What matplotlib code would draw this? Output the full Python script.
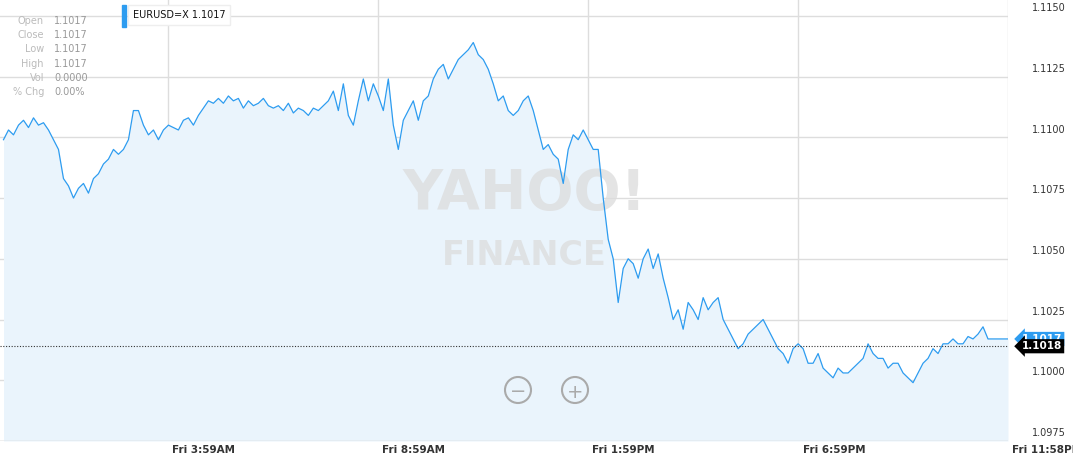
import matplotlib
matplotlib.use("Agg")
import matplotlib.pyplot as plt
from matplotlib.patches import Ellipse
import numpy as np

# price offsets in pips above 1.1000, sampled uniformly from 00:05 to 23:58
pips = [99,103,101,105,107,104,108,105,106,103,99,95,83,80,75,79,81,77,83,85,
89,91,95,93,95,99,111,111,105,101,103,99,103,105,104,103,107,108,105,109,
112,115,114,116,114,117,115,116,112,115,113,114,116,113,112,113,111,114,110,112,
111,109,112,111,113,115,119,111,122,109,105,115,124,115,122,117,111,124,105,95,
107,111,115,107,115,117,124,128,130,124,128,132,134,136,139,134,132,128,122,115,
117,111,109,111,115,117,111,103,95,97,93,91,81,95,101,99,103,99,95,95,
75,58,50,32,46,50,48,42,50,54,46,52,42,34,25,29,21,32,29,25,
34,29,32,34,25,21,17,13,15,19,21,23,25,21,17,13,11,7,13,15,
13,7,7,11,5,3,1,5,3,3,5,7,9,15,11,9,9,5,7,7,
3,1,-1,3,7,9,13,11,15,15,17,15,15,18,17,19,22,17,17,17,17,17]
start_h, end_h = 5/60, 23 + 58/60
yticks = [1.0975, 1.1000, 1.1025, 1.1050, 1.1075, 1.1100, 1.1125, 1.1150]
xticks_h = [3 + 59/60, 8 + 59/60, 13 + 59/60, 18 + 59/60, 23 + 58/60]
xtick_labels = ["Fri 3:59AM", "Fri 8:59AM", "Fri 1:59PM", "Fri 6:59PM", "Fri 11:58PM"]
last_price = 1.1017
prev_close = 1.1014
prev_label = "1.1018"

prices = 1.1 + np.array(pips) / 10000
t = np.linspace(start_h, end_h, len(prices))

W, H = 1073, 467
fig = plt.figure(figsize=(W / 100, H / 100), dpi=100)
ax = fig.add_axes([0, 26 / H, 1008 / W, 441 / H])
line_c = "#2d9cf0"
ax.fill_between(t, prices, 1.0975, color="#eaf4fc", lw=0, zorder=1)
ax.plot(t, prices, color=line_c, lw=0.9, zorder=3)
ax.axhline(prev_close, color="#333333", lw=0.8, ls=(0, (1, 1.5)), zorder=3)
ax.set_xlim(0, end_h)
ax.set_ylim(1.0975, 1.11565)
for y in yticks:
    ax.axhline(y, color="#dddddd", lw=1, zorder=0)
for x in xticks_h:
    ax.axvline(x, color="#dddddd", lw=1, zorder=0)
ax.set_xticks([]); ax.set_yticks([])
for s in ax.spines.values():
    s.set_visible(False)
ax.axhline(1.0975, color="#cccccc", lw=1)

for y in yticks:
    ax.annotate(f"{y:.4f}", (1066 / W, y), xycoords=("figure fraction", "data"),
                xytext=(0, 2), textcoords="offset points", ha="right", va="bottom",
                fontsize=7, color="#333333", annotation_clip=False)
for x, lab in zip(xticks_h, xtick_labels):
    ax.annotate(lab, (x, 0), xycoords=("data", "axes fraction"),
                xytext=(3, -3), textcoords="offset points", ha="left", va="top",
                fontsize=7.5, color="#333333", fontweight="bold", annotation_clip=False)

# price tags
ax.annotate("1.1017", (1, last_price), xycoords=("axes fraction", "data"),
            xytext=(10, 0), textcoords="offset points", ha="left", va="center",
            fontsize=7.5, color="white", fontweight="bold", annotation_clip=False,
            bbox=dict(boxstyle="larrow,pad=0.2", fc=line_c, ec="none"))
ax.annotate(prev_label, (1, prev_close), xycoords=("axes fraction", "data"),
            xytext=(10, 0), textcoords="offset points", ha="left", va="center",
            fontsize=7.5, color="white", fontweight="bold", annotation_clip=False,
            bbox=dict(boxstyle="larrow,pad=0.2", fc="black", ec="none"))

# watermark
ax.text(0.52, 0.56, "YAHOO!", transform=ax.transAxes, ha="center", va="center",
        fontsize=40, color="#dcdcdc", alpha=0.75, fontweight="bold", zorder=2)
ax.text(0.52, 0.42, "FINANCE", transform=ax.transAxes, ha="center", va="center",
        fontsize=24, color="#dcdcdc", alpha=0.75, fontweight="bold", zorder=2)

# OHLC box
labs = ["Open", "Close", "Low", "High", "Vol", "% Chg"]
vals = ["1.1017", "1.1017", "1.1017", "1.1017", "0.0000", "0.00%"]
for i, (l, v) in enumerate(zip(labs, vals)):
    yy = H - 21 - i * 14.2
    fig.text(44 / W, yy / H, l, ha="right", va="center", fontsize=7, color="#bbbbbb")
    fig.text(54 / W, yy / H, v, ha="left", va="center", fontsize=7, color="#999999")

# legend
fig.text(133 / W, (H - 15) / H, "EURUSD=X 1.1017", ha="left", va="center",
         fontsize=7, color="#111111",
         bbox=dict(boxstyle="square,pad=0.5", fc="white", ec="#eeeeee"))
fig.patches.append(plt.Rectangle((122 / W, (H - 27) / H), 4 / W, 22 / H,
                                 transform=fig.transFigure, color=line_c))

# zoom buttons
for xx, sym in [(518, "−"), (575, "+")]:
    fig.patches.append(Ellipse((xx / W, (H - 390) / H), 26 / W, 26 / H,
                               transform=fig.transFigure, fill=False, ec="#aaaaaa", lw=1.5))
    fig.text(xx / W, (H - 390) / H, sym, ha="center", va="center_baseline",
             fontsize=14, color="#aaaaaa")

fig.savefig("out.png", dpi=100)
